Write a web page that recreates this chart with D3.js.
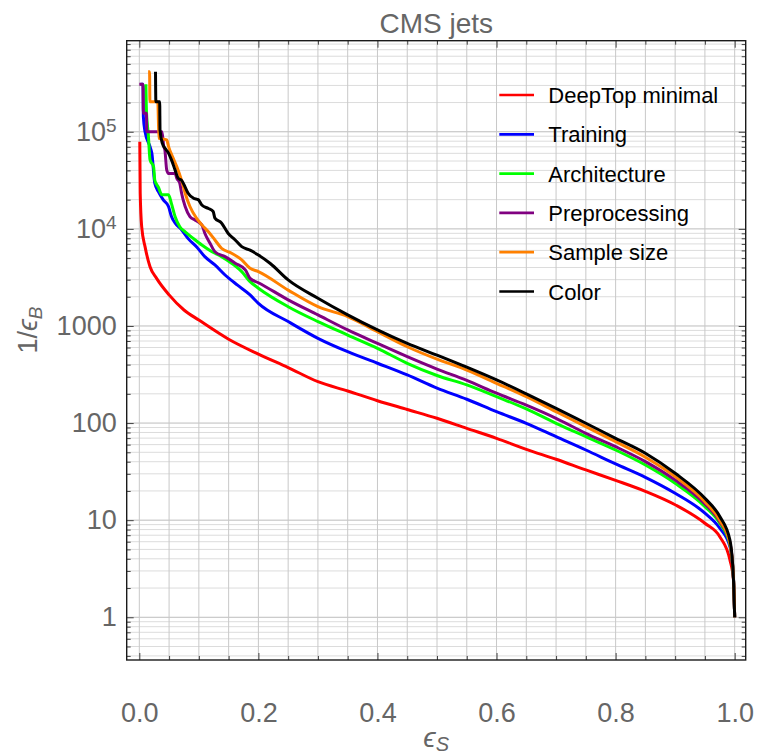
<!DOCTYPE html>
<html>
<head>
<meta charset="utf-8">
<script src="https://cdn.jsdelivr.net/npm/d3@7"></script>
<style>
  body { margin: 0; background: #fff; }
  text { font-family: "Liberation Sans", Arial, Helvetica, sans-serif; }
</style>
</head>
<body>
<svg id="chart" width="765" height="754"></svg>
<script>
// ROC curves: background rejection 1/eps_B against signal efficiency eps_S
const seriesNames = ["DeepTop minimal", "Training", "Architecture", "Preprocessing", "Sample size", "Color"];
const seriesColors = ["#ff0000", "#0000ff", "#00ff00", "#800080", "#ff8000", "#000000"];

const epsDeepTop = [0.0008, 0.0015, 0.004, 0.0096, 0.018, 0.029, 0.05, 0.075, 0.1, 0.15, 0.2, 0.25, 0.3, 0.35, 0.4, 0.45, 0.5, 0.55, 0.6, 0.65, 0.7, 0.75, 0.8, 0.85, 0.9, 0.95, 0.975, 0.992, 0.998, 1.0];
const invBDeepTop = [79100, 23300, 10470, 6560, 4070, 3090, 2090, 1460, 1150, 730, 513, 373, 267, 214, 170, 138, 112, 88.3, 69.7, 53.7, 42.4, 32.9, 25.7, 19.8, 14.4, 9.29, 6.76, 3.89, 2.42, 1];

const epsTraining = [0.002, 0.0062, 0.0068, 0.0096, 0.018, 0.021, 0.026, 0.032, 0.040, 0.049, 0.054, 0.06, 0.071, 0.082, 0.096, 0.11, 0.127, 0.144, 0.165, 0.186, 0.2, 0.25, 0.3, 0.35, 0.4, 0.45, 0.5, 0.55, 0.6, 0.65, 0.7, 0.75, 0.8, 0.85, 0.9, 0.95, 0.975, 0.992, 0.998, 1.0];
const invBTraining = [309000, 309000, 143000, 100000, 70100, 60300, 29500, 24200, 20000, 17000, 13400, 11500, 9770, 7940, 6560, 5180, 4250, 3350, 2630, 2090, 1710, 1110, 746, 543, 413, 313, 229, 176, 131, 99.5, 72.4, 52.8, 37.9, 27.6, 18.9, 11.8, 8.26, 5.33, 2.51, 1];

const epsArchitecture = [0.011, 0.012, 0.015, 0.018, 0.024, 0.026, 0.032, 0.038, 0.049, 0.054, 0.06, 0.068, 0.077, 0.091, 0.105, 0.122, 0.138, 0.155, 0.172, 0.186, 0.2, 0.25, 0.3, 0.35, 0.4, 0.45, 0.5, 0.55, 0.6, 0.65, 0.7, 0.75, 0.8, 0.85, 0.9, 0.95, 0.975, 0.992, 0.998, 1.0];
const invBArchitecture = [309000, 161000, 95500, 51300, 43600, 31600, 26900, 22400, 22400, 18200, 13400, 10500, 9330, 7940, 6820, 5820, 5180, 4430, 3630, 2860, 2450, 1580, 1110, 807, 589, 413, 309, 247, 187, 140, 99.5, 72.4, 52.8, 37.0, 24.0, 13.8, 9.29, 5.62, 2.51, 1];

const epsPreprocessing = [0.0, 0.0062, 0.0068, 0.0119, 0.0126, 0.038, 0.041, 0.043, 0.046, 0.049, 0.06, 0.063, 0.068, 0.071, 0.077, 0.085, 0.094, 0.105, 0.11, 0.119, 0.127, 0.144, 0.161, 0.178, 0.186, 0.2, 0.25, 0.3, 0.35, 0.4, 0.45, 0.5, 0.55, 0.6, 0.65, 0.7, 0.75, 0.8, 0.85, 0.9, 0.95, 0.975, 0.992, 0.998, 1.0];
const invBPreprocessing = [309000, 309000, 155000, 155000, 100000, 100000, 70800, 64600, 40500, 37200, 37200, 33100, 29500, 23300, 17000, 13400, 12300, 11000, 9020, 7080, 5820, 5180, 4430, 3780, 3090, 2790, 1860, 1300, 910, 661, 483, 360, 275, 203, 153, 112, 78.5, 57.1, 40.1, 25.9, 14.7, 9.66, 5.89, 2.51, 1];

const epsSampleSize = [0.0148, 0.0172, 0.0178, 0.031, 0.033, 0.046, 0.049, 0.057, 0.063, 0.071, 0.077, 0.085, 0.096, 0.105, 0.116, 0.127, 0.138, 0.155, 0.172, 0.186, 0.2, 0.25, 0.3, 0.35, 0.4, 0.45, 0.5, 0.55, 0.6, 0.65, 0.7, 0.75, 0.8, 0.85, 0.9, 0.95, 0.975, 0.992, 0.998, 1.0];
const invBSampleSize = [416000, 416000, 204000, 204000, 85700, 82400, 70800, 53300, 43600, 31600, 23300, 17000, 12900, 11000, 9330, 7690, 6310, 5620, 4790, 3930, 3630, 2340, 1580, 1250, 873, 611, 455, 352, 257, 187, 131, 91.8, 64.3, 44.5, 28.1, 15.5, 10.0, 5.78, 2.51, 1];

const epsColor = [0.0272, 0.0278, 0.0342, 0.0348, 0.0387, 0.0432, 0.049, 0.054, 0.06, 0.0655, 0.071, 0.077, 0.082, 0.091, 0.099, 0.105, 0.116, 0.124, 0.127, 0.138, 0.149, 0.161, 0.172, 0.186, 0.2, 0.22, 0.25, 0.3, 0.35, 0.4, 0.45, 0.5, 0.55, 0.6, 0.65, 0.7, 0.75, 0.8, 0.85, 0.9, 0.95, 0.975, 0.992, 0.998, 1.0];
const invBColor = [416000, 204000, 204000, 104000, 75900, 67600, 60300, 51300, 40500, 33100, 31600, 26900, 23300, 20700, 20000, 17600, 16200, 15100, 12900, 11500, 9020, 7690, 6560, 6030, 5370, 4400, 2980, 1930, 1300, 910, 661, 501, 376, 278, 200, 142, 99.5, 69.7, 48.9, 30.4, 16.8, 10.9, 6.25, 2.42, 1];

const xTickLabels = [0, 0.2, 0.4, 0.6, 0.8, 1.0];
const yTickLabels = [1, 10, 100, 1000, 10000, 100000];

const seriesEps = [epsDeepTop, epsTraining, epsArchitecture, epsPreprocessing, epsSampleSize, epsColor];
const seriesInvB = [invBDeepTop, invBTraining, invBArchitecture, invBPreprocessing, invBSampleSize, invBColor];

// ---- layout ----
const frame = { left: 126.7, right: 745.7, top: 40.7, bottom: 660 };
const svg = d3.select("#chart");

const x = d3.scaleLinear().domain([-0.0212, 1.0185]).range([frame.left, frame.right]);
const y = d3.scaleLog().domain([0.363, 8.67e5]).range([frame.bottom, frame.top]);

// ---- grid ----
const xGrid = d3.range(0, 21).map(i => i * 0.05);
const yMinor = [];
for (let k = -1; k <= 5; k++) {
  for (let m = 1; m <= 9; m++) {
    const v = m * Math.pow(10, k);
    if (v >= y.domain()[0] && v <= y.domain()[1]) yMinor.push(v);
  }
}
const grid = svg.append("g");
grid.selectAll(".hg").data(yMinor).join("line")
  .attr("x1", frame.left).attr("x2", frame.right)
  .attr("y1", d => y(d)).attr("y2", d => y(d))
  .attr("stroke", d => yTickLabels.includes(d) ? "#bdbdbd" : "#dcdcdc")
  .attr("stroke-width", 1);
grid.selectAll(".vg").data(xGrid).join("line")
  .attr("y1", frame.top).attr("y2", frame.bottom)
  .attr("x1", d => x(d)).attr("x2", d => x(d))
  .attr("stroke", "#c8c8c8").attr("stroke-width", 1);

// ---- curves ----
svg.append("clipPath").attr("id", "plotClip").append("rect")
  .attr("x", frame.left).attr("y", frame.top)
  .attr("width", frame.right - frame.left).attr("height", frame.bottom - frame.top);

const line = d3.line().x(d => x(d[0])).y(d => y(d[1])).curve(d3.curveMonotoneX);
const curves = svg.append("g").attr("clip-path", "url(#plotClip)");
seriesNames.forEach((name, i) => {
  const pts = seriesEps[i].map((e, j) => [e, seriesInvB[i][j]]);
  curves.append("path").datum(pts)
    .attr("d", line)
    .attr("fill", "none")
    .attr("stroke", seriesColors[i])
    .attr("stroke-width", 3)
    .attr("stroke-linejoin", "round");
});

// ---- frame ticks ----
const xMinor = xGrid.filter(v => !xTickLabels.some(t => Math.abs(t - v) < 1e-9));
const yMinorTicks = yMinor.filter(v => !yTickLabels.includes(v));
const tickColor = "#444";

function styleAxis(g) {
  g.select(".domain").remove();
  g.selectAll(".tick line").attr("stroke", tickColor);
}

// bottom
svg.append("g").attr("transform", `translate(0,${frame.bottom})`)
  .call(d3.axisBottom(x).tickValues(xMinor).tickSize(-4).tickFormat(""))
  .call(styleAxis);
svg.append("g").attr("class", "xaxis").attr("transform", `translate(0,${frame.bottom})`)
  .call(d3.axisBottom(x).tickValues(xTickLabels).tickSize(-7).tickPadding(43).tickFormat(d3.format(".1f")))
  .call(styleAxis);
// top
svg.append("g").attr("transform", `translate(0,${frame.top})`)
  .call(d3.axisTop(x).tickValues(xMinor).tickSize(-4).tickFormat(""))
  .call(styleAxis);
svg.append("g").attr("transform", `translate(0,${frame.top})`)
  .call(d3.axisTop(x).tickValues(xTickLabels).tickSize(-7).tickFormat(""))
  .call(styleAxis);
// left
svg.append("g").attr("transform", `translate(${frame.left},0)`)
  .call(d3.axisLeft(y).tickValues(yMinorTicks).tickSize(-4).tickFormat(""))
  .call(styleAxis);
svg.append("g").attr("class", "yaxis").attr("transform", `translate(${frame.left},0)`)
  .call(d3.axisLeft(y).tickValues(yTickLabels).tickSize(-7).tickPadding(10).tickFormat(d => String(d)))
  .call(styleAxis);
// right
svg.append("g").attr("transform", `translate(${frame.right},0)`)
  .call(d3.axisRight(y).tickValues(yMinorTicks).tickSize(-4).tickFormat(""))
  .call(styleAxis);
svg.append("g").attr("transform", `translate(${frame.right},0)`)
  .call(d3.axisRight(y).tickValues(yTickLabels).tickSize(-7).tickFormat(""))
  .call(styleAxis);

// tick label styling
svg.selectAll(".xaxis .tick text, .yaxis .tick text")
  .attr("fill", "#666")
  .style("font-size", "27px")
  .style("font-family", "'Liberation Sans', Arial, sans-serif");

// powers of ten written with a superscript exponent
svg.selectAll(".yaxis .tick text").each(function(d) {
  if (d >= 10000) {
    const t = d3.select(this).text(null);
    t.append("tspan").text("10");
    t.append("tspan").attr("dy", "-0.45em").style("font-size", "19px").text(String(Math.round(Math.log10(d))));
  }
});

// frame
svg.append("rect")
  .attr("x", frame.left).attr("y", frame.top)
  .attr("width", frame.right - frame.left).attr("height", frame.bottom - frame.top)
  .attr("fill", "none").attr("stroke", "#1a1a1a").attr("stroke-width", 1.4);

// ---- title and axis labels ----
svg.append("text")
  .attr("x", (frame.left + frame.right) / 2).attr("y", 33)
  .attr("text-anchor", "middle").attr("fill", "#666")
  .style("font-size", "28px").text("CMS jets");

const xl = svg.append("text")
  .attr("x", (frame.left + frame.right) / 2).attr("y", 747)
  .attr("text-anchor", "middle").attr("fill", "#666")
  .style("font-size", "28px");
xl.append("tspan").style("font-style", "italic").text("ϵ");
xl.append("tspan").attr("dy", 4).style("font-size", "20px").style("font-style", "italic").text("S");

const yl = svg.append("text")
  .attr("transform", "translate(37,330) rotate(-90)")
  .attr("text-anchor", "middle").attr("fill", "#666")
  .style("font-size", "27px");
yl.append("tspan").text("1/");
yl.append("tspan").style("font-style", "italic").text("ϵ");
yl.append("tspan").attr("dy", 5).style("font-size", "19px").style("font-style", "italic").text("B");

// ---- legend ----
const legend = svg.append("g");
seriesNames.forEach((name, i) => {
  const ly = 95 + i * 39.3;
  legend.append("line")
    .attr("x1", 499.3).attr("x2", 534).attr("y1", ly).attr("y2", ly)
    .attr("stroke", seriesColors[i]).attr("stroke-width", 2.7);
  legend.append("text")
    .attr("x", 548.3).attr("y", ly + 8)
    .attr("fill", "#000").style("font-size", "22px")
    .text(name);
});
</script>
</body>
</html>
